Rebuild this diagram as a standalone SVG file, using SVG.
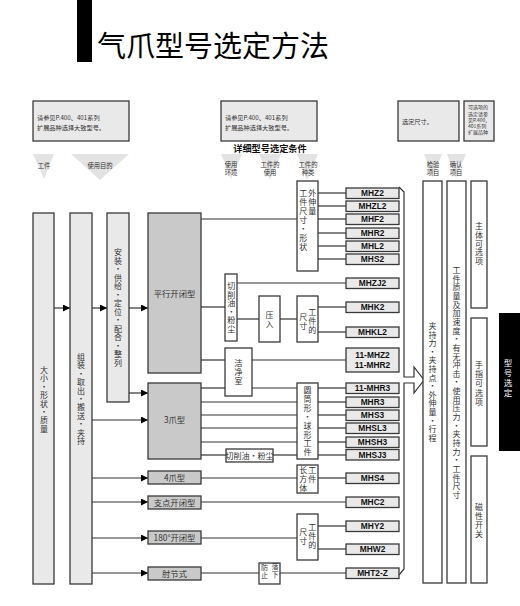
<svg xmlns="http://www.w3.org/2000/svg" width="520" height="606" viewBox="0 0 520 606">
<style>
.bg{fill:#fff}
.bx{fill:#e9e9e9;stroke:#3a3a3a;stroke-width:1.3}
.gb{fill:#c9c9c9;stroke:#3a3a3a;stroke-width:1.3}
.wb{fill:#fff;stroke:#3a3a3a;stroke-width:1.3}
.tri{fill:#e3e3e3}
.t{font-family:"Noto Sans CJK SC","Noto Sans",sans-serif;fill:#333}
.c{text-anchor:middle}
.v{font-family:"Noto Sans CJK SC",sans-serif;fill:#333;font-size:8px;writing-mode:vertical-rl}
.m{font-family:"Liberation Sans",Arial,sans-serif;font-weight:bold;font-size:8.4px;fill:#111;text-anchor:middle}
.ln{stroke:#333;stroke-width:1.2;fill:none}
</style>
<defs>
<marker id="ah" markerUnits="userSpaceOnUse" markerWidth="7" markerHeight="7" refX="7" refY="3.5" orient="auto">
<path d="M0,0 L7,3.5 L0,7 z" fill="#000"/>
</marker>
</defs>
<rect class="bg" x="0" y="0" width="520" height="606"/>

<g id="title">
<rect x="77" y="0" width="15" height="62" fill="#000"/>
<text class="t" x="97" y="57" font-size="29" style="fill:#000">气爪型号选定方法</text>
</g>

<g id="note1">
<rect class="bx" x="33" y="101" width="96" height="40"/>
<text class="t" x="37" y="119.5" font-size="6.2">请参见P.400、401系列</text>
<text class="t" x="37" y="130" font-size="6.2">扩展品种选择大致型号。</text>
</g>
<g id="note2">
<rect class="bx" x="221" y="101" width="96" height="40"/>
<text class="t" x="225" y="119.5" font-size="6.2">请参见P.400、401系列</text>
<text class="t" x="225" y="130" font-size="6.2">扩展品种选择大致型号。</text>
</g>
<g id="note3">
<rect class="bx" x="398" y="101" width="61" height="40"/>
<text class="t" x="402" y="123.5" font-size="6.2">选定尺寸。</text>
</g>
<g id="note4">
<rect class="bx" x="464" y="101" width="30" height="40"/>
<text class="t" x="468" y="109.4" font-size="5">可选项的</text>
<text class="t" x="468" y="115.6" font-size="5">选定请参</text>
<text class="t" x="468" y="121.8" font-size="5">见P.400、</text>
<text class="t" x="468" y="128" font-size="5">401系列</text>
<text class="t" x="468" y="134.2" font-size="5">扩展品种</text>
</g>

<g id="subtitle">
<text class="t c" x="270" y="151.5" font-size="9.2" font-weight="bold" style="fill:#111">详细型号选定条件</text>
</g>

<g id="headers">
<path class="tri" d="M33,154 L54,154 L44,179 z"/>
<text class="t c" x="44" y="168" font-size="6.3">工件</text>
<path class="tri" d="M71,154 L129,154 L100,180 z"/>
<text class="t c" x="100" y="168" font-size="6.3">使用目的</text>
<path class="tri" d="M221,154 L242,154 L231,179 z"/>
<text class="t c" x="231" y="167" font-size="6.3">使用</text>
<text class="t c" x="231" y="174.5" font-size="6.3">环境</text>
<path class="tri" d="M259,154 L281,154 L270,180 z"/>
<text class="t c" x="270" y="167" font-size="6.3">工件的</text>
<text class="t c" x="270" y="174.5" font-size="6.3">使用</text>
<path class="tri" d="M297,154 L318,154 L307,180 z"/>
<text class="t c" x="308" y="167" font-size="6.3">工件的</text>
<text class="t c" x="308" y="174.5" font-size="6.3">种类</text>
<path class="tri" d="M424,154 L442,154 L433,178 z"/>
<text class="t c" x="433" y="167" font-size="6.3">检验</text>
<text class="t c" x="433" y="174.5" font-size="6.3">项目</text>
<path class="tri" d="M447,154 L466,154 L456,178 z"/>
<text class="t c" x="456" y="167" font-size="6.3">确认</text>
<text class="t c" x="456" y="174.5" font-size="6.3">项目</text>
</g>

<g id="connectors">
<line class="ln" x1="54" y1="308" x2="70" y2="308" marker-end="url(#ah)"/>
<line class="ln" x1="92" y1="308" x2="107" y2="308" marker-end="url(#ah)"/>
<line class="ln" x1="129" y1="308" x2="148" y2="308" marker-end="url(#ah)"/>
<line class="ln" x1="129" y1="393" x2="148" y2="393" marker-end="url(#ah)"/>
<line class="ln" x1="92" y1="420" x2="148" y2="420" marker-end="url(#ah)"/>
<line class="ln" x1="92" y1="478" x2="148" y2="478" marker-end="url(#ah)"/>
<line class="ln" x1="92" y1="502" x2="148" y2="502" marker-end="url(#ah)"/>
<line class="ln" x1="92" y1="538" x2="148" y2="538" marker-end="url(#ah)"/>
<line class="ln" x1="92" y1="573" x2="148" y2="573" marker-end="url(#ah)"/>
<line class="ln" x1="201" y1="219" x2="297" y2="219"/>
<line class="ln" x1="318" y1="193" x2="346" y2="193"/>
<line class="ln" x1="318" y1="206" x2="346" y2="206"/>
<line class="ln" x1="318" y1="219" x2="346" y2="219"/>
<line class="ln" x1="318" y1="233" x2="346" y2="233"/>
<line class="ln" x1="318" y1="246" x2="346" y2="246"/>
<line class="ln" x1="318" y1="259" x2="346" y2="259"/>
<line class="ln" x1="201" y1="307" x2="225" y2="307"/>
<line class="ln" x1="237" y1="283" x2="346" y2="283"/>
<line class="ln" x1="237" y1="319" x2="259" y2="319"/>
<line class="ln" x1="280" y1="319" x2="297" y2="319"/>
<line class="ln" x1="318" y1="307" x2="346" y2="307"/>
<line class="ln" x1="318" y1="332" x2="346" y2="332"/>
<line class="ln" x1="201" y1="360" x2="225" y2="360"/>
<line class="ln" x1="252" y1="360" x2="346" y2="360"/>
<line class="ln" x1="201" y1="388" x2="225" y2="388"/>
<line class="ln" x1="252" y1="388" x2="297" y2="388"/>
<line class="ln" x1="318" y1="388" x2="346" y2="388"/>
<line class="ln" x1="201" y1="402" x2="297" y2="402"/>
<line class="ln" x1="201" y1="415" x2="297" y2="415"/>
<line class="ln" x1="201" y1="428" x2="297" y2="428"/>
<line class="ln" x1="201" y1="442" x2="297" y2="442"/>
<line class="ln" x1="318" y1="402" x2="346" y2="402"/>
<line class="ln" x1="318" y1="415" x2="346" y2="415"/>
<line class="ln" x1="318" y1="428" x2="346" y2="428"/>
<line class="ln" x1="318" y1="442" x2="346" y2="442"/>
<line class="ln" x1="201" y1="455" x2="226" y2="455"/>
<line class="ln" x1="273" y1="455" x2="297" y2="455"/>
<line class="ln" x1="318" y1="455" x2="346" y2="455"/>
<line class="ln" x1="201" y1="478" x2="297" y2="478"/>
<line class="ln" x1="318" y1="478" x2="346" y2="478"/>
<line class="ln" x1="201" y1="502" x2="346" y2="502"/>
<line class="ln" x1="201" y1="538" x2="297" y2="538"/>
<line class="ln" x1="318" y1="526" x2="346" y2="526"/>
<line class="ln" x1="318" y1="549" x2="346" y2="549"/>
<line class="ln" x1="201" y1="573" x2="259" y2="573"/>
<line class="ln" x1="280" y1="573" x2="346" y2="573"/>
<path class="ln" d="M399,187 L404,192 L404,377 L414,377 L414,367 L424,380 L414,393 L414,383 L404,383 L404,569 L399,575"/>
</g>

<g id="col-size">
<rect class="bx" x="33" y="213" width="21" height="371"/>
<text class="v" x="44" y="366" letter-spacing="0.4">大小・形状・质量</text>
</g>
<g id="col-purpose">
<rect class="bx" x="70" y="213" width="22" height="371"/>
<text class="v" x="81" y="353" letter-spacing="0.4">组装・取出・搬送・夹持</text>
</g>
<g id="col-install">
<rect class="bx" x="107" y="213" width="22" height="189"/>
<text class="v" x="118" y="248" letter-spacing="0.5">安装・供给・定位・配合・整列</text>
</g>

<g id="type-parallel">
<rect class="gb" x="148" y="213" width="53" height="160"/>
<text class="t c" x="174.5" y="297" font-size="8.3">平行开闭型</text>
</g>
<g id="type-3jaw">
<rect class="gb" x="148" y="383" width="53" height="76"/>
<text class="t c" x="174.5" y="423" font-size="8.3">3爪型</text>
</g>
<g id="type-4jaw">
<rect class="gb" x="148" y="471" width="53" height="13"/>
<text class="t c" x="174.5" y="480.8" font-size="8.3">4爪型</text>
</g>
<g id="type-fulcrum">
<rect class="gb" x="148" y="496" width="53" height="13"/>
<text class="t c" x="174.5" y="505.8" font-size="8.3">支点开闭型</text>
</g>
<g id="type-180">
<rect class="gb" x="148" y="531" width="53" height="13"/>
<text class="t c" x="174.5" y="540.8" font-size="8.3">180°开闭型</text>
</g>
<g id="type-toggle">
<rect class="gb" x="148" y="567" width="53" height="13"/>
<text class="t c" x="174.5" y="576.8" font-size="8.3">肘节式</text>
</g>

<g id="cond-workpiece-size">
<rect class="wb" x="297" y="181" width="21" height="90"/>
<text class="v" x="303.3" y="189" letter-spacing="1">工件尺寸・形状</text>
<text class="v" x="312.3" y="189" letter-spacing="1">外伸量</text>
</g>
<g id="env-oil1">
<rect class="wb" x="225" y="274" width="12" height="67"/>
<text class="v" x="231.3" y="282" letter-spacing="0.6">切削油・粉尘</text>
</g>
<g id="use-press">
<rect class="wb" x="259" y="296" width="21" height="46"/>
<text class="v" x="269.5" y="311" letter-spacing="1">压入</text>
</g>
<g id="cond-size1">
<rect class="wb" x="297" y="296" width="21" height="46"/>
<text class="v" x="312.3" y="308" letter-spacing="1">工件的</text>
<text class="v" x="303.3" y="313" letter-spacing="1">尺寸</text>
</g>
<g id="env-clean">
<rect class="wb" x="225" y="348" width="27" height="48"/>
<text class="v" x="238.5" y="359" letter-spacing="1">洁净室</text>
</g>
<g id="cond-cylinder">
<rect class="wb" x="297" y="383" width="21" height="76"/>
<text class="v" x="307.5" y="386" letter-spacing="0.9">圆筒形・球形工件</text>
</g>
<g id="env-oil2">
<rect class="wb" x="226" y="449" width="47" height="13"/>
<text class="t c" x="249.5" y="458.5" font-size="8">切削油·粉尘</text>
</g>
<g id="cond-box">
<rect class="wb" x="297" y="465" width="21" height="28"/>
<text class="v" x="312.3" y="466" letter-spacing="1">工件</text>
<text class="v" x="303.3" y="466" letter-spacing="1">长方体</text>
</g>
<g id="cond-size2">
<rect class="wb" x="297" y="514" width="21" height="46"/>
<text class="v" x="312.3" y="523" letter-spacing="1">工件的</text>
<text class="v" x="303.3" y="528" letter-spacing="1">尺寸</text>
</g>
<g id="use-drop">
<rect class="wb" x="259" y="563" width="21" height="21"/>
<text class="v" x="264.5" y="563.5" letter-spacing="1.5" style="font-size:7px">防止</text>
<text class="v" x="275" y="562.5" letter-spacing="1.5" style="font-size:7px">落下</text>
</g>

<g id="models">
<rect class="bx" x="346" y="188" width="53" height="10.5"/><text class="m" x="372.5" y="196.3">MHZ2</text>
<rect class="bx" x="346" y="201" width="53" height="10.5"/><text class="m" x="372.5" y="209.3">MHZL2</text>
<rect class="bx" x="346" y="214" width="53" height="10.5"/><text class="m" x="372.5" y="222.3">MHF2</text>
<rect class="bx" x="346" y="228" width="53" height="10.5"/><text class="m" x="372.5" y="236.3">MHR2</text>
<rect class="bx" x="346" y="241" width="53" height="10.5"/><text class="m" x="372.5" y="249.3">MHL2</text>
<rect class="bx" x="346" y="254" width="53" height="10.5"/><text class="m" x="372.5" y="262.3">MHS2</text>
<rect class="bx" x="346" y="278" width="53" height="10.5"/><text class="m" x="372.5" y="286.3">MHZJ2</text>
<rect class="bx" x="346" y="302" width="53" height="10.5"/><text class="m" x="372.5" y="310.3">MHK2</text>
<rect class="bx" x="346" y="327" width="53" height="10.5"/><text class="m" x="372.5" y="335.3">MHKL2</text>
<rect class="bx" x="346" y="348" width="53" height="24"/><text class="m" x="372.5" y="358">11-MHZ2</text><text class="m" x="372.5" y="367.5">11-MHR2</text>
<rect class="bx" x="346" y="383" width="53" height="10.5"/><text class="m" x="372.5" y="391.3">11-MHR3</text>
<rect class="bx" x="346" y="397" width="53" height="10.5"/><text class="m" x="372.5" y="405.3">MHR3</text>
<rect class="bx" x="346" y="410" width="53" height="10.5"/><text class="m" x="372.5" y="418.3">MHS3</text>
<rect class="bx" x="346" y="423" width="53" height="10.5"/><text class="m" x="372.5" y="431.3">MHSL3</text>
<rect class="bx" x="346" y="437" width="53" height="10.5"/><text class="m" x="372.5" y="445.3">MHSH3</text>
<rect class="bx" x="346" y="449.5" width="53" height="10.5"/><text class="m" x="372.5" y="457.8">MHSJ3</text>
<rect class="bx" x="346" y="473" width="53" height="10.5"/><text class="m" x="372.5" y="481.3">MHS4</text>
<rect class="bx" x="346" y="497" width="53" height="10.5"/><text class="m" x="372.5" y="505.3">MHC2</text>
<rect class="bx" x="346" y="521" width="53" height="10.5"/><text class="m" x="372.5" y="529.3">MHY2</text>
<rect class="bx" x="346" y="544" width="53" height="10.5"/><text class="m" x="372.5" y="552.3">MHW2</text>
<rect class="bx" x="346" y="568" width="53" height="10.5"/><text class="m" x="372.5" y="576.3">MHT2-Z</text>
</g>

<g id="check-items">
<rect class="wb" x="423" y="181" width="19" height="402"/>
<text class="v" x="432.5" y="322" letter-spacing="0.6">夹持力・夹持点・外伸量・行程</text>
</g>
<g id="confirm-items">
<rect class="wb" x="447" y="181" width="19" height="402"/>
<text class="v" x="456.5" y="266" letter-spacing="0.65">工件质量及加速度・有无冲击・使用压力・夹持力・工件尺寸</text>
</g>
<g id="opt-body">
<rect class="wb" x="471" y="181" width="16" height="127"/>
<text class="v" x="479" y="222" letter-spacing="0.8">主体可选项</text>
</g>
<g id="opt-finger">
<rect class="wb" x="471" y="318" width="16" height="128"/>
<text class="v" x="479" y="361" letter-spacing="1.2">手指可选项</text>
</g>
<g id="opt-switch">
<rect class="wb" x="471" y="456" width="16" height="127"/>
<text class="v" x="479" y="502.7" letter-spacing="1.1">磁性开关</text>
</g>
<g id="tab">
<rect x="499" y="313" width="21" height="138" fill="#000"/>
<text class="v" x="508" y="358.7" letter-spacing="1.5" style="fill:#fff;font-size:8.5px">型号选定</text>
</g>
</svg>
